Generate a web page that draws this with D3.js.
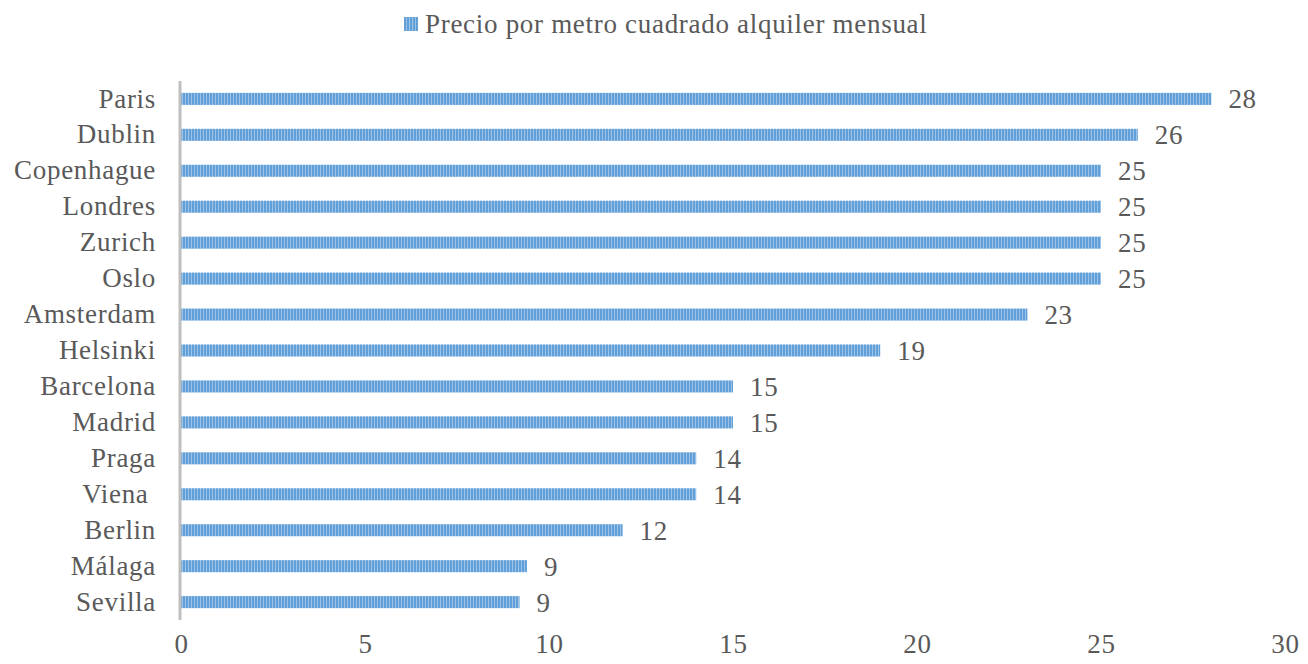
<!DOCTYPE html>
<html>
<head>
<meta charset="utf-8">
<script src="https://cdn.jsdelivr.net/npm/d3@7"></script>
<style>
  body { margin: 0; background: #fff; }
  svg text { font-family: "Liberation Serif", serif; fill: #595959; white-space: pre; letter-spacing: 0.7px; }
</style>
</head>
<body>
<svg width="1308" height="664"></svg>
<script>
const ciudades = ['Paris', 'Dublin', 'Copenhague', 'Londres', 'Zurich', 'Oslo', 'Amsterdam',
  'Helsinki', 'Barcelona', 'Madrid', 'Praga', 'Viena ', 'Berlin', 'Málaga', 'Sevilla'];
const precios = [28, 26, 25, 25, 25, 25, 23, 19, 15, 15, 14, 14, 12, 9.4, 9.2];
const ticks = [0, 5, 10, 15, 20, 25, 30];
const serie = 'Precio por metro cuadrado alquiler mensual';

const data = ciudades.map((c, i) => ({ ciudad: c, valor: precios[i] }));

const svg = d3.select('svg');

// striped fill like the original
const defs = svg.append('defs');
const pat = defs.append('pattern')
  .attr('id', 'rayas')
  .attr('patternUnits', 'userSpaceOnUse')
  .attr('width', 3)
  .attr('height', 10);
pat.append('rect').attr('width', 3).attr('height', 10).attr('fill', '#9cc2e8');
pat.append('rect').attr('width', 2).attr('height', 10).attr('fill', '#609fd8');

const x = d3.scaleLinear().domain([0, 30]).range([181, 1285]);
const y = d3.scaleBand().domain(ciudades).range([81, 620]).paddingInner(0.665).paddingOuter(0.33);

// bars
svg.selectAll('rect.bar').data(data)
  .enter().append('rect')
  .attr('class', 'bar')
  .attr('x', x(0))
  .attr('y', d => y(d.ciudad))
  .attr('width', d => x(d.valor) - x(0))
  .attr('height', y.bandwidth())
  .attr('fill', 'url(#rayas)');

// value labels
svg.selectAll('text.val').data(data)
  .enter().append('text')
  .attr('class', 'val')
  .attr('x', d => x(d.valor) + 17)
  .attr('y', d => y(d.ciudad) + y.bandwidth() / 2)
  .attr('dy', '0.35em')
  .attr('font-size', 27)
  .text(d => d3.format('.0f')(d.valor));

// category axis
const yAxis = svg.append('g')
  .attr('transform', `translate(${x(0) - 1},0)`)
  .call(d3.axisLeft(y).tickSize(0).tickPadding(24));
yAxis.select('.domain').attr('stroke', '#bfbfbf').attr('stroke-width', 3)
  .attr('d', `M0,81V620`);
yAxis.selectAll('text').attr('font-size', 27).attr('fill', '#595959')
  .style('font-family', '"Liberation Serif", serif');

// value axis (labels only)
const xAxis = svg.append('g')
  .attr('transform', 'translate(0,632)')
  .call(d3.axisBottom(x).tickValues(ticks).tickSize(0).tickPadding(2));
xAxis.select('.domain').remove();
xAxis.selectAll('text').attr('font-size', 27).attr('fill', '#595959')
  .style('font-family', '"Liberation Serif", serif');

// legend
const leg = svg.append('g').attr('transform', 'translate(404,17)');
leg.append('rect').attr('width', 14).attr('height', 14).attr('fill', 'url(#rayas)');
leg.append('text').attr('x', 21).attr('y', 7).attr('dy', '0.35em')
  .attr('font-size', 27).text(serie);
</script>
</body>
</html>
